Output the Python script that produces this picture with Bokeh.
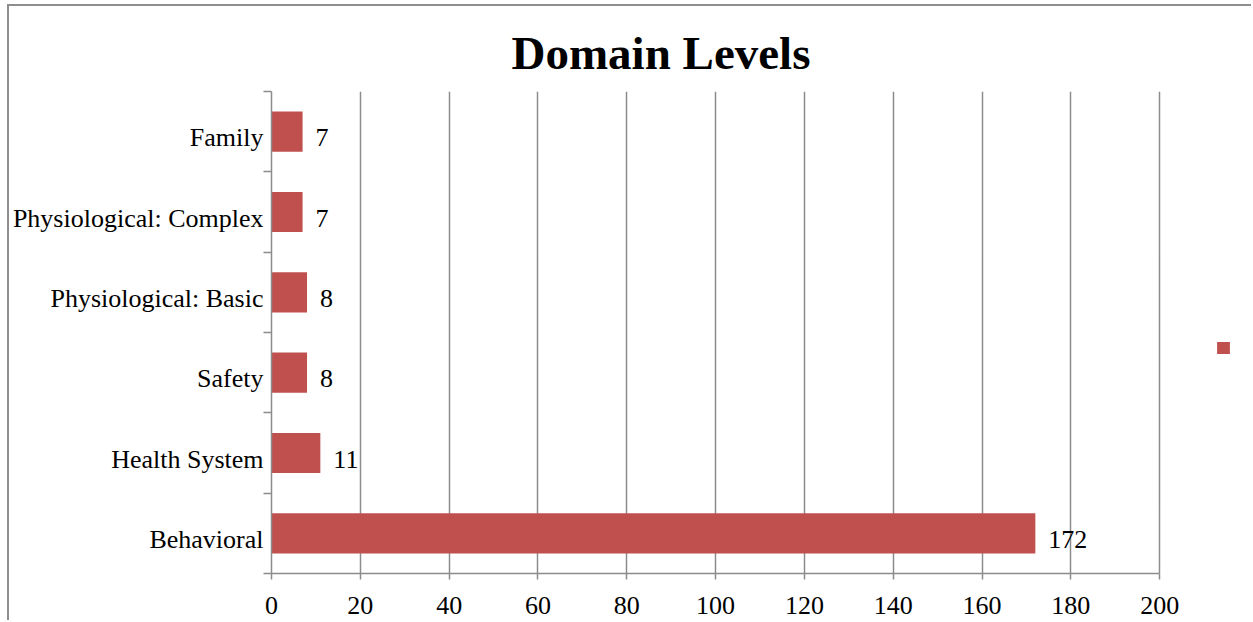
from bokeh.plotting import figure
from bokeh.models import (ColumnDataSource, LabelSet, FixedTicker, Legend, LegendItem,
                          Range1d, Title)
from bokeh.embed import file_html
from bokeh.resources import INLINE

# ---- data ----
categories = ["Behavioral", "Health System", "Safety", "Physiological: Basic",
              "Physiological: Complex", "Family"]
counts = [172, 11, 8, 8, 7, 7]
x_ticks = [0, 20, 40, 60, 80, 100, 120, 140, 160, 180, 200]
x_tick_labels = ["0", "20", "40", "60", "80", "100", "120", "140", "160", "180", "200"]
title_text = "Domain Levels"

# ---- layout / style (not data) ----
FONT = "Liberation Serif"
BAR = "#C0504D"
GRID = "#8C8C8C"
LW = 1.5
W, H = 1244, 616
FL, FR, FT, FB = 260, 1150, 85, 567           # axis extent in canvas px
X_MAX = x_ticks[-1]
x_end = X_MAX * (W - FL) / (FR - FL)           # frame runs to the canvas edge
px_per_y = (FB - FT) / 6.0

p = figure(width=W, height=H, x_range=Range1d(0, x_end), y_range=Range1d(0, 6),
           output_backend="svg", toolbar_location=None,
           min_border_left=FL, min_border_right=0,
           min_border_top=FT, min_border_bottom=H - FB)
p.styles = {"margin-top": "4px", "margin-left": "7px",
            "border-top": "2px solid #8E8E8E", "border-left": "2px solid #8E8E8E"}
p.outline_line_color = None
p.background_fill_color = "white"
p.border_fill_color = "white"

n = len(categories)
ypos = [i + 0.5 for i in range(n)]
label_shift = 6.0 / px_per_y
src = ColumnDataSource(dict(y=ypos, right=counts,
                            lab=[str(c) for c in counts],
                            ylab=[v - label_shift for v in ypos]))
bars = p.hbar(y="y", right="right", left=0, height=0.5, source=src,
              fill_color=BAR, line_color=None)

# x axis
xa = p.xaxis[0]
xa.bounds = (0, X_MAX)
xa.ticker = FixedTicker(ticks=x_ticks)
xa.major_label_overrides = {t: s for t, s in zip(x_ticks, x_tick_labels)}
xa.major_label_text_font = FONT
xa.major_label_text_font_size = "26px"
xa.major_label_text_color = "black"
xa.major_label_standoff = 17
xa.major_tick_out = 6
xa.major_tick_in = 0
xa.minor_tick_line_color = None
xa.axis_line_color = GRID
xa.axis_line_width = LW
xa.major_tick_line_color = GRID
xa.major_tick_line_width = LW

# y axis: labels at category centres, tick marks at category boundaries
ya = p.yaxis[0]
ya.ticker = FixedTicker(ticks=[v - label_shift for v in ypos],
                        minor_ticks=list(range(n + 1)))
ya.major_label_overrides = {v - label_shift: c for v, c in zip(ypos, categories)}
ya.major_label_text_font = FONT
ya.major_label_text_font_size = "26px"
ya.major_label_text_color = "black"
ya.major_label_standoff = 0
ya.major_tick_out = 0
ya.major_tick_in = 0
ya.major_tick_line_color = None
ya.minor_tick_out = 8
ya.minor_tick_in = 0
ya.minor_tick_line_color = GRID
ya.minor_tick_line_width = LW
ya.axis_line_color = GRID
ya.axis_line_width = LW

p.xgrid.ticker = FixedTicker(ticks=x_ticks)
p.xgrid.grid_line_color = GRID
p.xgrid.grid_line_width = LW
p.ygrid.grid_line_color = None

# data labels
p.add_layout(LabelSet(x="right", y="ylab", text="lab", source=src, x_offset=13,
                      text_align="left", text_baseline="middle",
                      text_font=FONT, text_font_size="26px", text_color="black"))

# title
p.add_layout(Title(text=title_text, align="left", offset=240, standoff=26,
                   text_font=FONT, text_font_size="47px", text_font_style="bold",
                   text_color="black"), "above")

legend = Legend(items=[LegendItem(label=" ", renderers=[bars])],
                location=(944, 218), padding=0, margin=0, spacing=0,
                glyph_width=16, glyph_height=15, label_height=15, label_width=0,
                label_standoff=0, label_text_font_size="10px",
                border_line_color=None, background_fill_alpha=0)
p.add_layout(legend, "center")

open("out.html", "w").write(file_html(p, INLINE))
